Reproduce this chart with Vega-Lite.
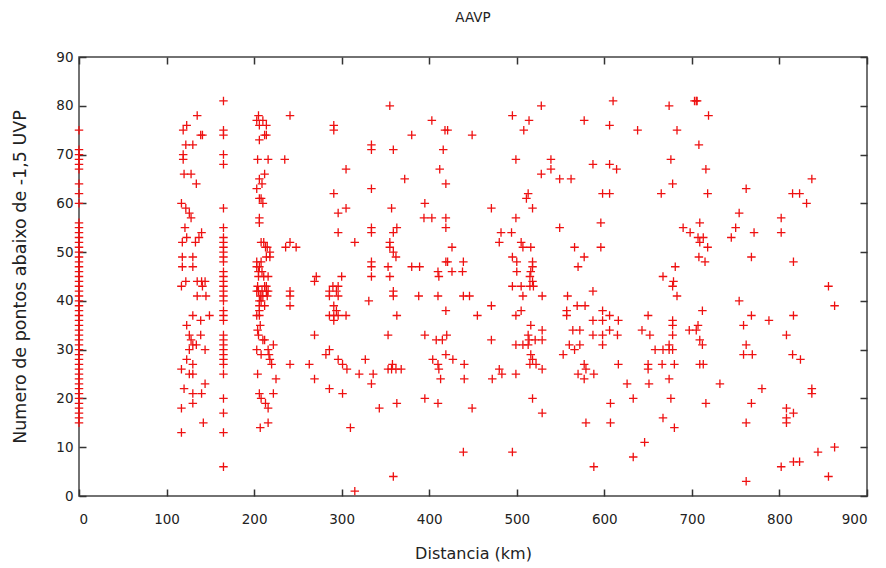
{
  "$schema": "https://vega.github.io/schema/vega-lite/v6.json",
  "autosize": "none",
  "padding": {"left": 79, "top": 57, "right": 19, "bottom": 72},
  "width": 788,
  "height": 439,
  "title": {"text": "AAVP", "fontSize": 13.5, "fontWeight": "normal", "font": "DejaVu Sans", "color": "#222", "offset": 26},
  "config": {
    "view": {"stroke": "#444", "strokeWidth": 1.5},
    "axis": {"labelFont": "DejaVu Sans", "titleFont": "DejaVu Sans", "labelFontSize": 13.5, "titleFontSize": 16, "titleFontWeight": "normal", "labelColor": "#222", "titleColor": "#222", "grid": false, "domain": false, "tickColor": "#333", "tickWidth": 1.5}
  },
  "data": {"values": [
    {"d":0,"n":15},{"d":0,"n":16},{"d":0,"n":17},{"d":0,"n":18},{"d":0,"n":19},{"d":0,"n":20},{"d":0,"n":21},{"d":0,"n":22},{"d":0,"n":23},{"d":0,"n":24},{"d":0,"n":25},{"d":0,"n":26},{"d":0,"n":27},{"d":0,"n":28},{"d":0,"n":29},{"d":0,"n":30},{"d":0,"n":31},{"d":0,"n":32},{"d":0,"n":33},{"d":0,"n":34},{"d":0,"n":35},{"d":0,"n":36},{"d":0,"n":37},{"d":0,"n":38},{"d":0,"n":39},{"d":0,"n":40},{"d":0,"n":41},{"d":0,"n":42},{"d":0,"n":43},{"d":0,"n":44},{"d":0,"n":45},{"d":0,"n":46},{"d":0,"n":47},{"d":0,"n":48},{"d":0,"n":49},{"d":0,"n":50},{"d":0,"n":51},{"d":0,"n":52},{"d":0,"n":53},{"d":0,"n":54},{"d":0,"n":55},{"d":0,"n":56},{"d":0,"n":60},{"d":0,"n":62},{"d":0,"n":64},{"d":0,"n":67},{"d":0,"n":68},{"d":0,"n":69},{"d":0,"n":70},{"d":0,"n":71},{"d":0,"n":75},
    {"d":165,"n":81},{"d":165,"n":75},{"d":165,"n":74},{"d":165,"n":70},{"d":165,"n":68},{"d":165,"n":59},{"d":165,"n":55},{"d":165,"n":53},{"d":165,"n":52},{"d":165,"n":51},{"d":165,"n":50},{"d":165,"n":49},{"d":165,"n":48},{"d":165,"n":46},{"d":165,"n":45},{"d":165,"n":44},{"d":165,"n":43},{"d":165,"n":42},{"d":165,"n":41},{"d":165,"n":40},{"d":165,"n":38},{"d":165,"n":37},{"d":165,"n":36},{"d":165,"n":33},{"d":165,"n":32},{"d":165,"n":31},{"d":165,"n":30},{"d":165,"n":29},{"d":165,"n":28},{"d":165,"n":27},{"d":165,"n":25},{"d":165,"n":20},{"d":165,"n":17},{"d":165,"n":13},{"d":165,"n":6},
    {"d":135,"n":78},{"d":123,"n":76},{"d":119,"n":75},{"d":139,"n":74},{"d":141,"n":74},{"d":122,"n":72},{"d":130,"n":72},{"d":119,"n":70},{"d":119,"n":69},{"d":120,"n":66},{"d":128,"n":66},{"d":134,"n":64},{"d":117,"n":60},{"d":122,"n":59},{"d":126,"n":58},{"d":128,"n":57},{"d":121,"n":55},{"d":123,"n":53},{"d":140,"n":54},{"d":118,"n":52},{"d":133,"n":52},{"d":137,"n":53},{"d":118,"n":49},{"d":118,"n":47},{"d":130,"n":49},{"d":130,"n":47},{"d":117,"n":43},{"d":122,"n":44},{"d":135,"n":44},{"d":140,"n":44},{"d":144,"n":44},{"d":141,"n":43},{"d":135,"n":41},{"d":145,"n":41},{"d":130,"n":37},{"d":139,"n":36},{"d":149,"n":37},{"d":123,"n":35},{"d":126,"n":33},{"d":139,"n":33},{"d":128,"n":32},{"d":130,"n":31},{"d":134,"n":31},{"d":144,"n":30},{"d":126,"n":30},{"d":123,"n":28},{"d":130,"n":27},{"d":117,"n":26},{"d":126,"n":25},{"d":130,"n":25},{"d":144,"n":23},{"d":120,"n":22},{"d":130,"n":21},{"d":140,"n":21},{"d":130,"n":19},{"d":117,"n":18},{"d":142,"n":15},{"d":117,"n":13},
    {"d":205,"n":78},{"d":241,"n":78},{"d":203,"n":77},{"d":210,"n":77},{"d":206,"n":76},{"d":214,"n":76},{"d":212,"n":74},{"d":214,"n":74},{"d":206,"n":73},{"d":204,"n":69},{"d":216,"n":69},{"d":235,"n":69},{"d":212,"n":66},{"d":206,"n":65},{"d":209,"n":64},{"d":203,"n":63},{"d":206,"n":61},{"d":210,"n":60},{"d":208,"n":61},{"d":206,"n":57},{"d":206,"n":56},{"d":208,"n":52},{"d":211,"n":52},{"d":213,"n":51},{"d":215,"n":51},{"d":218,"n":50},{"d":218,"n":49},{"d":236,"n":51},{"d":241,"n":52},{"d":248,"n":51},{"d":203,"n":48},{"d":206,"n":47},{"d":214,"n":49},{"d":209,"n":46},{"d":208,"n":48},{"d":203,"n":47},{"d":205,"n":46},{"d":211,"n":45},{"d":204,"n":43},{"d":209,"n":42},{"d":214,"n":43},{"d":203,"n":42},{"d":205,"n":42},{"d":207,"n":41},{"d":210,"n":41},{"d":208,"n":40},{"d":212,"n":39},{"d":206,"n":38},{"d":214,"n":42},{"d":215,"n":41},{"d":216,"n":45},{"d":212,"n":43},{"d":216,"n":42},{"d":205,"n":45},{"d":206,"n":40},{"d":206,"n":39},{"d":206,"n":37},{"d":241,"n":42},{"d":241,"n":41},{"d":241,"n":39},{"d":203,"n":37},{"d":207,"n":35},{"d":205,"n":33},{"d":212,"n":32},{"d":222,"n":31},{"d":203,"n":30},{"d":208,"n":29},{"d":217,"n":29},{"d":218,"n":28},{"d":220,"n":27},{"d":204,"n":34},{"d":210,"n":32},{"d":216,"n":30},{"d":204,"n":25},{"d":225,"n":24},{"d":206,"n":21},{"d":208,"n":20},{"d":213,"n":19},{"d":216,"n":18},{"d":222,"n":21},{"d":207,"n":14},{"d":216,"n":15},
    {"d":269,"n":44},{"d":241,"n":27},{"d":263,"n":27},{"d":269,"n":24},{"d":269,"n":33},{"d":291,"n":76},{"d":291,"n":75},{"d":305,"n":67},{"d":291,"n":62},{"d":296,"n":58},{"d":305,"n":59},{"d":296,"n":54},{"d":315,"n":52},{"d":300,"n":45},{"d":271,"n":45},{"d":286,"n":42},{"d":290,"n":43},{"d":294,"n":42},{"d":296,"n":43},{"d":286,"n":41},{"d":296,"n":41},{"d":291,"n":39},{"d":286,"n":37},{"d":291,"n":37},{"d":296,"n":37},{"d":291,"n":36},{"d":305,"n":37},{"d":294,"n":38},{"d":286,"n":30},{"d":282,"n":29},{"d":296,"n":28},{"d":301,"n":27},{"d":306,"n":26},{"d":286,"n":22},{"d":301,"n":21},{"d":310,"n":14},{"d":315,"n":1},
    {"d":355,"n":80},{"d":334,"n":72},{"d":334,"n":71},{"d":359,"n":71},{"d":334,"n":63},{"d":357,"n":59},{"d":334,"n":55},{"d":334,"n":54},{"d":359,"n":54},{"d":363,"n":55},{"d":355,"n":52},{"d":355,"n":51},{"d":359,"n":50},{"d":362,"n":49},{"d":334,"n":48},{"d":334,"n":47},{"d":334,"n":45},{"d":353,"n":47},{"d":355,"n":45},{"d":359,"n":42},{"d":359,"n":41},{"d":331,"n":40},{"d":363,"n":37},{"d":327,"n":28},{"d":320,"n":25},{"d":336,"n":25},{"d":334,"n":23},{"d":353,"n":33},{"d":353,"n":26},{"d":358,"n":27},{"d":362,"n":26},{"d":368,"n":26},{"d":357,"n":26},{"d":343,"n":18},{"d":363,"n":19},{"d":359,"n":4},
    {"d":380,"n":74},{"d":403,"n":77},{"d":418,"n":75},{"d":421,"n":75},{"d":416,"n":71},{"d":412,"n":67},{"d":372,"n":65},{"d":419,"n":64},{"d":395,"n":60},{"d":394,"n":57},{"d":403,"n":57},{"d":419,"n":57},{"d":419,"n":55},{"d":419,"n":48},{"d":380,"n":47},{"d":389,"n":47},{"d":410,"n":46},{"d":411,"n":45},{"d":449,"n":74},{"d":426,"n":51},{"d":421,"n":48},{"d":439,"n":48},{"d":426,"n":46},{"d":438,"n":46},{"d":388,"n":41},{"d":410,"n":41},{"d":419,"n":38},{"d":439,"n":41},{"d":446,"n":41},{"d":455,"n":37},{"d":395,"n":33},{"d":408,"n":32},{"d":415,"n":32},{"d":420,"n":33},{"d":419,"n":29},{"d":404,"n":28},{"d":427,"n":28},{"d":410,"n":27},{"d":411,"n":26},{"d":413,"n":24},{"d":440,"n":27},{"d":440,"n":24},{"d":395,"n":20},{"d":410,"n":19},{"d":449,"n":18},{"d":439,"n":9},{"d":471,"n":39},{"d":471,"n":32},{"d":472,"n":24},{"d":480,"n":26},{"d":483,"n":25},{"d":471,"n":59},{"d":482,"n":54},{"d":494,"n":54},{"d":480,"n":52},
    {"d":495,"n":78},{"d":528,"n":80},{"d":514,"n":77},{"d":508,"n":75},{"d":577,"n":77},{"d":610,"n":81},{"d":606,"n":76},{"d":638,"n":75},{"d":499,"n":69},{"d":539,"n":69},{"d":539,"n":67},{"d":528,"n":66},{"d":549,"n":65},{"d":562,"n":65},{"d":587,"n":68},{"d":606,"n":68},{"d":614,"n":67},{"d":513,"n":62},{"d":511,"n":61},{"d":518,"n":59},{"d":598,"n":62},{"d":606,"n":62},{"d":499,"n":57},{"d":596,"n":56},{"d":549,"n":55},{"d":505,"n":52},{"d":507,"n":51},{"d":516,"n":51},{"d":566,"n":51},{"d":577,"n":49},{"d":596,"n":51},{"d":495,"n":49},{"d":500,"n":48},{"d":500,"n":46},{"d":518,"n":48},{"d":518,"n":47},{"d":516,"n":46},{"d":515,"n":45},{"d":570,"n":47},{"d":518,"n":44},{"d":495,"n":43},{"d":505,"n":43},{"d":515,"n":43},{"d":519,"n":43},{"d":507,"n":41},{"d":529,"n":41},{"d":558,"n":41},{"d":587,"n":42},{"d":499,"n":37},{"d":505,"n":38},{"d":557,"n":38},{"d":557,"n":37},{"d":569,"n":39},{"d":578,"n":39},{"d":598,"n":38},{"d":606,"n":37},{"d":616,"n":36},{"d":587,"n":36},{"d":598,"n":36},{"d":516,"n":35},{"d":513,"n":33},{"d":529,"n":34},{"d":529,"n":32},{"d":514,"n":32},{"d":499,"n":31},{"d":507,"n":31},{"d":513,"n":31},{"d":521,"n":32},{"d":564,"n":34},{"d":572,"n":34},{"d":587,"n":33},{"d":598,"n":33},{"d":606,"n":34},{"d":615,"n":33},{"d":598,"n":31},{"d":560,"n":31},{"d":566,"n":30},{"d":572,"n":31},{"d":553,"n":29},{"d":499,"n":25},{"d":516,"n":29},{"d":518,"n":28},{"d":515,"n":27},{"d":522,"n":27},{"d":529,"n":26},{"d":570,"n":25},{"d":577,"n":27},{"d":579,"n":26},{"d":588,"n":25},{"d":577,"n":24},{"d":616,"n":27},{"d":626,"n":23},{"d":633,"n":20},{"d":607,"n":19},{"d":607,"n":15},{"d":518,"n":20},{"d":529,"n":17},{"d":579,"n":15},{"d":495,"n":9},{"d":588,"n":6},{"d":633,"n":8},
    {"d":674,"n":80},{"d":703,"n":81},{"d":705,"n":81},{"d":706,"n":81},{"d":719,"n":78},{"d":683,"n":75},{"d":708,"n":72},{"d":676,"n":69},{"d":716,"n":67},{"d":678,"n":64},{"d":665,"n":62},{"d":718,"n":62},{"d":762,"n":63},{"d":837,"n":65},{"d":815,"n":62},{"d":823,"n":62},{"d":831,"n":60},{"d":754,"n":58},{"d":802,"n":57},{"d":802,"n":54},{"d":750,"n":55},{"d":745,"n":53},{"d":771,"n":54},{"d":709,"n":56},{"d":690,"n":55},{"d":698,"n":54},{"d":707,"n":53},{"d":713,"n":53},{"d":709,"n":52},{"d":718,"n":51},{"d":708,"n":49},{"d":715,"n":48},{"d":768,"n":49},{"d":816,"n":48},{"d":681,"n":47},{"d":667,"n":45},{"d":679,"n":44},{"d":678,"n":43},{"d":683,"n":41},{"d":856,"n":43},{"d":863,"n":39},{"d":754,"n":40},{"d":712,"n":38},{"d":650,"n":37},{"d":768,"n":37},{"d":759,"n":35},{"d":788,"n":36},{"d":816,"n":37},{"d":808,"n":33},{"d":678,"n":36},{"d":678,"n":35},{"d":678,"n":33},{"d":643,"n":34},{"d":652,"n":33},{"d":697,"n":34},{"d":707,"n":35},{"d":705,"n":34},{"d":709,"n":32},{"d":712,"n":31},{"d":762,"n":31},{"d":759,"n":29},{"d":769,"n":29},{"d":658,"n":30},{"d":667,"n":30},{"d":674,"n":31},{"d":674,"n":30},{"d":678,"n":30},{"d":815,"n":29},{"d":824,"n":28},{"d":650,"n":27},{"d":650,"n":26},{"d":666,"n":27},{"d":680,"n":27},{"d":709,"n":27},{"d":713,"n":27},{"d":651,"n":23},{"d":674,"n":24},{"d":732,"n":23},{"d":676,"n":20},{"d":716,"n":19},{"d":780,"n":22},{"d":768,"n":19},{"d":837,"n":22},{"d":837,"n":21},{"d":808,"n":18},{"d":808,"n":16},{"d":808,"n":15},{"d":816,"n":17},{"d":667,"n":16},{"d":680,"n":14},{"d":762,"n":15},{"d":646,"n":11},{"d":802,"n":6},{"d":816,"n":7},{"d":823,"n":7},{"d":844,"n":9},{"d":863,"n":10},{"d":856,"n":4},{"d":762,"n":3}
  ]},
  "layer": [
    {
      "mark": {"type": "point", "shape": "M-1,0L1,0M0,-1L0,1", "size": 72, "filled": false, "stroke": "#ee1111", "strokeWidth": 1.3, "opacity": 1},
      "encoding": {
        "x": {"field": "d", "type": "quantitative", "scale": {"domain": [0, 900], "nice": false}, "axis": {"orient": "bottom", "values": [0,100,200,300,400,500,600,700,800,900], "tickSize": -7, "labelPadding": 23, "title": "Distancia (km)", "titlePadding": 20}},
        "y": {"field": "n", "type": "quantitative", "scale": {"domain": [0, 90], "nice": false}, "axis": {"orient": "left", "values": [0,10,20,30,40,50,60,70,80,90], "tickSize": -7, "labelPadding": 13, "title": "Numero de pontos abaixo de -1,5 UVP", "titleFontSize": 17.5, "titlePadding": 26}}
      }
    },
    {
      "mark": {"type": "point", "opacity": 0},
      "encoding": {
        "x": {"field": "d", "type": "quantitative", "scale": {"domain": [0, 900], "nice": false}, "axis": {"orient": "top", "values": [0,100,200,300,400,500,600,700,800,900], "tickSize": -7, "labels": false, "title": null}},
        "y": {"field": "n", "type": "quantitative", "scale": {"domain": [0, 90], "nice": false}, "axis": {"orient": "right", "values": [0,10,20,30,40,50,60,70,80,90], "tickSize": -7, "labels": false, "title": null}}
      }
    }
  ],
  "resolve": {"axis": {"x": "independent", "y": "independent"}}
}
